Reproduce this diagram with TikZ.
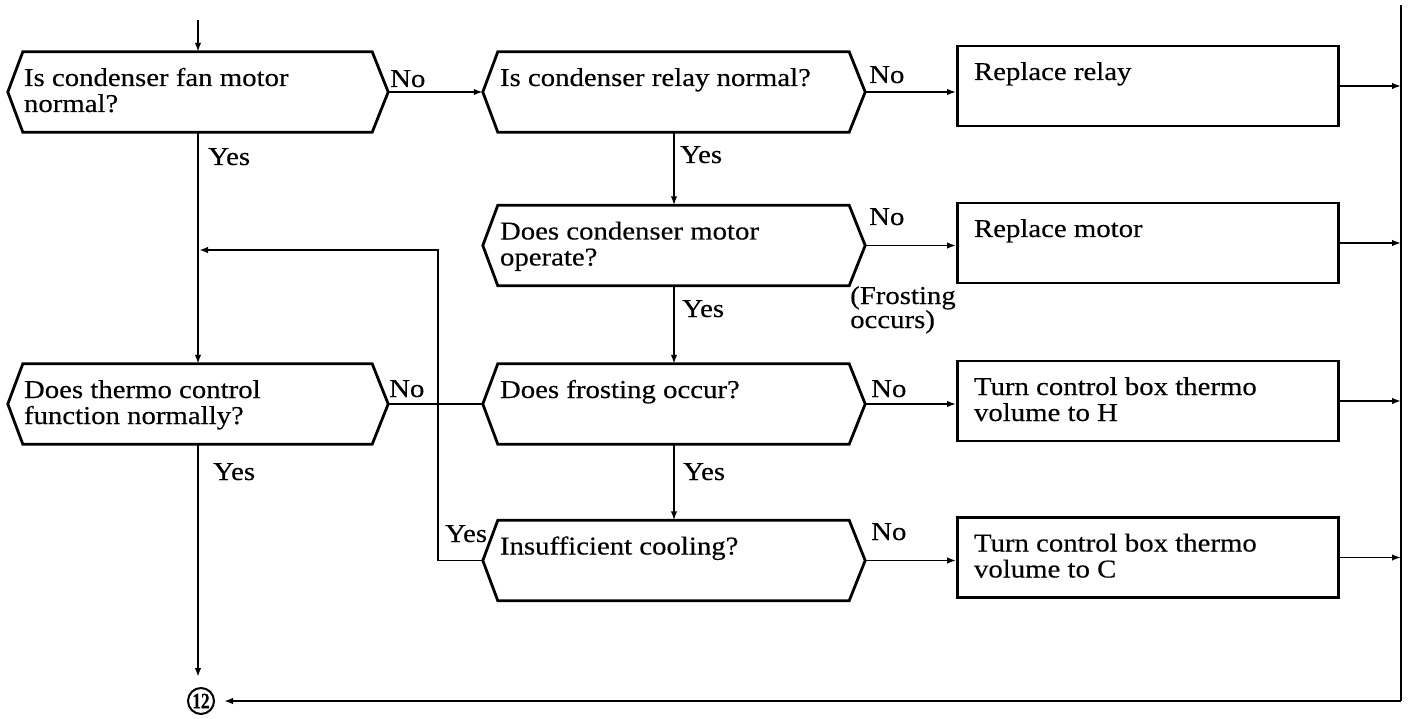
\documentclass[tikz,border=0pt]{standalone}
\usepackage{fontspec}
\usepackage{graphicx}
\setmainfont{Liberation Serif}[FakeStretch=1.12,FakeBold=0.3]
\usetikzlibrary{arrows.meta}
\newcommand\qtxt[1]{\parbox[c][80pt][t]{348pt}{\rule{0pt}{34pt}#1}}
\begin{document}
\begin{tikzpicture}[x=1pt,y=-1pt,
  txt/.style={font=\fontsize{25.7pt}{26pt}\selectfont},
  hexq/.style={txt, inner sep=0pt, minimum height=80pt, align=left},
  actbox/.style={txt, draw, line width=2.8pt, inner sep=0pt, minimum width=381pt, minimum height=80pt, align=left},
  shapeline/.style={draw, line width=2.8pt, line join=miter},
  wire/.style={line width=1.8pt},
  conn/.style={wire, -{Latex[length=9pt,width=6.5pt]}},
  lbl/.style={txt, inner sep=0pt, anchor=base west},
  circ/.style={draw, circle, line width=2pt, minimum size=26pt, inner sep=0pt, font=\fontsize{22pt}{22pt}\selectfont}
]
\useasboundingbox (0,0) rectangle (1408,719);

% decision nodes
\node[hexq, minimum width=380pt] (q1) at (198,92) {\qtxt{Is condenser fan motor\\normal?}};
\node[hexq, minimum width=382pt] (q2) at (674,92) {\qtxt{Is condenser relay normal?}};
\node[hexq, minimum width=382pt] (q3) at (674,245.5) {\qtxt{Does condenser motor\\operate?}};
\node[hexq, minimum width=380pt] (th) at (198,404) {\qtxt{Does thermo control\\function normally?}};
\node[hexq, minimum width=382pt] (q4) at (674,404) {\qtxt{Does frosting occur?}};
\node[hexq, minimum width=382pt] (q5) at (674,560.5) {\qtxt{Insufficient cooling?}};

\foreach \n in {q1,q2,q3,th,q4,q5}
  \draw[shapeline] (\n.west) -- ([xshift=15pt]\n.north west) -- ([xshift=-16pt]\n.north east)
     -- (\n.east) -- ([xshift=-16pt]\n.south east) -- ([xshift=15pt]\n.south west) -- cycle;

% action boxes
\node[actbox] (b1) at (1148,86) {\qtxt{Replace relay}};
\node[actbox] (b2) at (1148,243) {\qtxt{Replace motor}};
\node[actbox] (b3) at (1148,401) {\qtxt{Turn control box thermo\\volume to H}};
\node[actbox] (b4) at (1148,557.5) {\qtxt{Turn control box thermo\\volume to C}};

% terminal
\node[circ] (c12) at (201,701) {\scalebox{0.7}[1]{\textbf{12}}};

% coordinates
\coordinate (start) at (198,20);
\coordinate (rtop) at (1401,5);
\coordinate (rbot) at (1401,701);
\coordinate (lc) at (438,250);
\coordinate (jn) at (199,250);

% connectors
\draw[conn] (start) -- (q1.north);
\draw[conn] (q1.east) -- (q2.west);
\draw[conn] (q1.south) -- (th.north);
\draw[conn, shorten >=10pt] (th.south) -- (th.south |- c12.north);
\draw[wire] (th.east) -- (q4.west);
\draw[conn] (q5.west) -| (lc) -- (jn);
\draw[conn] (q2.south) -- (q3.north);
\draw[conn] (q3.south) -- (q4.north);
\draw[conn] (q4.south) -- (q5.north);
\draw[conn] (q2.east) -- (q2.east -| b1.west);
\draw[conn] (q3.east) -- (q3.east -| b2.west);
\draw[conn] (q4.east) -- (q4.east -| b3.west);
\draw[conn] (q5.east) -- (q5.east -| b4.west);
\draw[conn] (b1.east) -- (b1.east -| rtop);
\draw[conn] (b2.east) -- (b2.east -| rtop);
\draw[conn] (b3.east) -- (b3.east -| rtop);
\draw[conn] (b4.east) -- (b4.east -| rtop);
\draw[wire, line width=2pt] (rtop) -- (rbot);
\draw[conn, shorten >=9pt] (rbot) -- (c12.east);

% labels
\node[lbl] (n1) at (390,87) {No};
\node[lbl] (n2) at (869,83) {No};
\node[lbl] (n3) at (869,225) {No};
\node[lbl] (n4) at (389,397) {No};
\node[lbl] (n5) at (871,397) {No};
\node[lbl] (n6) at (871,540) {No};
\node[lbl] (y1) at (208,165) {Yes};
\node[lbl] (y2) at (680,163) {Yes};
\node[lbl] (y3) at (682,317) {Yes};
\node[lbl] (y4) at (213,480) {Yes};
\node[lbl] (y5) at (683,480) {Yes};
\node[lbl] (y6) at (445,542) {Yes};
\node[lbl, align=left, font=\fontsize{25.7pt}{24pt}\selectfont] (fr) at (850,328) {(Frosting\\occurs)};
\end{tikzpicture}
\end{document}
